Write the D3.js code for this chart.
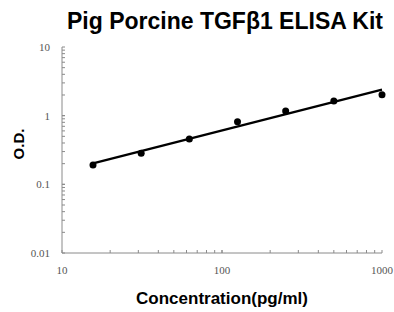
<!DOCTYPE html>
<html><head><meta charset="utf-8">
<script src="https://cdn.jsdelivr.net/npm/d3@7"></script>
<style>body{margin:0;background:#fff}svg{display:block}</style>
</head><body>
<svg id="c" width="394" height="312"></svg>
<script>
const title = "Pig Porcine TGFβ1 ELISA Kit";
const xTitle = "Concentration(pg/ml)";
const yTitle = "O.D.";
const concentration = [15.625, 31.25, 62.5, 125, 250, 500, 1000];
const od = [0.191, 0.283, 0.457, 0.818, 1.17, 1.64, 2.02];
const xTickLabels = [10, 100, 1000];
const yTickLabels = [0.01, 0.1, 1, 10];

const svg = d3.select("#c");
const m = {left: 62, right: 12, top: 47, bottom: 59};
const W = 394, H = 312;
const x = d3.scaleLog().domain([10, 1000]).range([m.left, W - m.right]);
const y = d3.scaleLog().domain([0.01, 10]).range([H - m.bottom, m.top]);

// minor ticks
const xMinor = [], yMinor = [];
for (let d = 10; d < 1000; d *= 10) for (let k = 1; k <= 10; k++) xMinor.push(d * k);
for (let d = 0.01; d < 9; d *= 10) for (let k = 1; k <= 10; k++) yMinor.push(+(d * k).toPrecision(3));

const axisColor = "#8a8a8a";
const gx = svg.append("g").attr("transform", `translate(0,${y(0.01)})`);
gx.append("line").attr("x1", x(10)).attr("x2", x(1000)).attr("stroke", axisColor).attr("stroke-width", 1);
gx.selectAll("line.t").data(xMinor).join("line").attr("class", "t")
  .attr("x1", d => x(d)).attr("x2", d => x(d)).attr("y1", 0).attr("y2", -3)
  .attr("stroke", axisColor);
gx.selectAll("text").data(xTickLabels).join("text")
  .attr("x", d => x(d)).attr("y", 21).attr("text-anchor", "middle")
  .attr("font-family", "Liberation Serif").attr("font-size", 11).attr("fill", "#555")
  .text(d => d);

const gy = svg.append("g").attr("transform", `translate(${x(10)},0)`);
gy.append("line").attr("y1", y(0.01)).attr("y2", y(10)).attr("stroke", axisColor).attr("stroke-width", 1);
gy.selectAll("line.t").data(yMinor).join("line").attr("class", "t")
  .attr("y1", d => y(d)).attr("y2", d => y(d)).attr("x1", 0).attr("x2", 3)
  .attr("stroke", axisColor);
gy.selectAll("text").data(yTickLabels).join("text")
  .attr("x", -12).attr("y", d => y(d) + 4).attr("text-anchor", "end")
  .attr("font-family", "Liberation Serif").attr("font-size", 11).attr("fill", "#555")
  .text(d => d);

// regression in log-log space
const lx = concentration.map(Math.log10), ly = od.map(Math.log10);
const mx = d3.mean(lx), my = d3.mean(ly);
const slope = d3.sum(lx.map((v, i) => (v - mx) * (ly[i] - my))) / d3.sum(lx.map(v => (v - mx) ** 2));
const icpt = my - slope * mx;
const fitX = [concentration[0], concentration[concentration.length - 1]];
svg.append("path")
  .attr("d", d3.line().x(d => x(d)).y(d => y(Math.pow(10, icpt + slope * Math.log10(d))))(fitX))
  .attr("stroke", "#000").attr("stroke-width", 2.2).attr("fill", "none");

svg.selectAll("circle").data(concentration).join("circle")
  .attr("cx", d => x(d)).attr("cy", (d, i) => y(od[i])).attr("r", 3.5).attr("fill", "#000");

svg.append("text").attr("x", 225).attr("y", 29).attr("text-anchor", "middle")
  .attr("font-family", "Liberation Sans").attr("font-weight", "bold").attr("font-size", 23)
  .attr("fill", "#000").text(title);
svg.append("text").attr("x", 222).attr("y", 304).attr("text-anchor", "middle")
  .attr("font-family", "Liberation Sans").attr("font-weight", "bold").attr("font-size", 17)
  .attr("fill", "#000").text(xTitle);
svg.append("text").attr("transform", "translate(24,144) rotate(-90)").attr("text-anchor", "middle")
  .attr("font-family", "Liberation Sans").attr("font-weight", "bold").attr("font-size", 15)
  .attr("fill", "#000").text(yTitle);
</script>
</body></html>
